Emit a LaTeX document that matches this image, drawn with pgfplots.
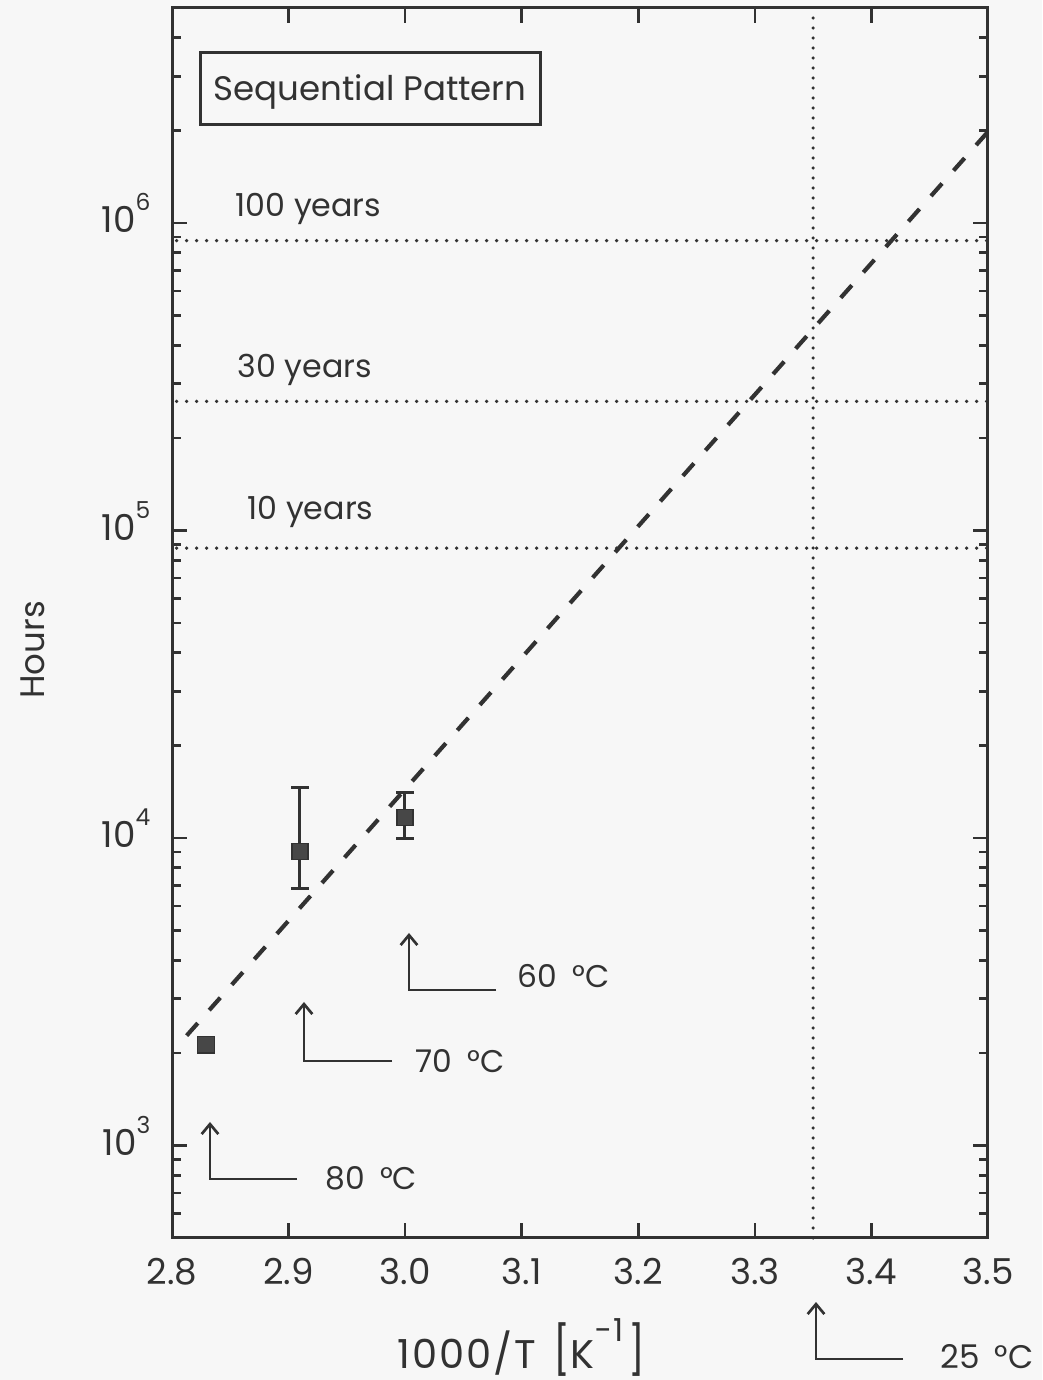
\documentclass[border=0pt]{standalone}
\usepackage{pgfplots}
\pgfplotsset{compat=1.18}
\usepackage{fontspec}
\setmainfont{Poppins}
\usetikzlibrary{arrows.meta}
\definecolor{ink}{RGB}{50,50,50}
\definecolor{bg}{RGB}{247,247,247}
\newcommand{\Q}[2]{({(#1-172)*0.3pt},{(1238-#2)*0.3pt})}
\newcommand{\sx}[1]{10\raisebox{6.6pt}{\fontsize{7}{7}\selectfont #1}}
\newcommand{\lab}{\fontsize{9.5}{11}\selectfont}
\newcommand{\tl}{\fontsize{9.4}{11}\selectfont}
\newcommand{\dg}{\hspace{4.5pt}°C}
\begin{document}
\begin{tikzpicture}[font=\fontsize{10.7}{12}\selectfont, color=ink]
\path[use as bounding box, fill=bg] (-51.6pt,-42.6pt) rectangle (261pt,371.4pt);
\begin{axis}[
  at={(0,0)}, anchor=south west, scale only axis,
  width=244.8pt, height=369pt,
  xmin=2.8, xmax=3.5, ymode=log, ymin=500, ymax=5e6,
  xtick={2.8,2.9,3.0,3.1,3.2,3.3,3.4,3.5},
  xticklabels={2.8,2.9,3.0,3.1,3.2,3.3,3.4,3.5},
  ytick={1e3,1e4,1e5,1e6},
  yticklabels={\sx{3},\sx{4},\sx{5},\sx{6}},
  minor ytick={600,700,800,900,2000,3000,4000,5000,6000,7000,8000,9000,
    2e4,3e4,4e4,5e4,6e4,7e4,8e4,9e4,2e5,3e5,4e5,5e5,6e5,7e5,8e5,9e5,2e6,3e6,4e6},
  xtick pos=both, ytick pos=both,
  tick align=inside, major tick length=4.5pt, minor tick length=2.6pt,
  axis line style={line width=0.9pt, ink},
  every tick/.style={line width=0.8pt, ink},
  xticklabel style={anchor=base, inner sep=0pt, yshift=-14.1pt},
  yticklabel style={anchor=base east, inner sep=0pt, xshift=-6.3pt, yshift=-3pt},
  /pgf/number format/assume math mode=true,
  clip=false,
]
% reference lines
\addplot[ink, line width=1.1pt, line cap=round, dash pattern=on 0pt off 3pt] coordinates {(2.804,876000)(3.5,876000)};
\addplot[ink, line width=1.1pt, line cap=round, dash pattern=on 0pt off 3pt] coordinates {(2.804,262800)(3.5,262800)};
\addplot[ink, line width=1.1pt, line cap=round, dash pattern=on 0pt off 3pt] coordinates {(2.804,87600)(3.5,87600)};
\addplot[ink, line width=1.1pt, line cap=round, dash pattern=on 0pt off 3pt] coordinates {(3.35,500)(3.35,5e6)};
% fit line
\addplot[ink, line width=1.25pt, dash pattern=on 5pt off 5.2pt] coordinates {(2.8126,2276)(3.5,1.98e6)};
% data
\addplot[only marks, mark=square*, mark size=2.5pt, ink, mark options={fill=ink!90}] coordinates {(2.8292,2128)};
\addplot[only marks, mark=square*, mark size=2.4pt, ink, mark options={fill=ink!90},
  error bars/.cd, y dir=both, y explicit,
  error bar style={line width=0.9pt, ink},
  error mark options={rotate=90, mark size=2.6pt, line width=0.9pt, ink}]
  table[x=x, y=y, y error plus=ep, y error minus=em] {
x y ep em
2.9098 9027 5543 2161
2.9998 11675 2400 1695
};
\end{axis}
% title box
\draw[line width=0.9pt] \Q{200}{52.5} rectangle \Q{540.5}{124.5};
\node[anchor=base west, inner sep=0pt, font=\fontsize{10.2}{12}\selectfont] at \Q{213}{101} {Sequential Pattern};
% line labels
\node[anchor=base west, inner sep=0pt, font=\lab] at \Q{235}{217} {100 years};
\node[anchor=base west, inner sep=0pt, font=\lab] at \Q{237}{378} {30 years};
\node[anchor=base west, inner sep=0pt, font=\lab] at \Q{247}{520} {10 years};
% temperature arrows
\draw[line width=0.8pt, -{Straight Barb[length=3pt,width=5pt]}] \Q{297}{1179} -- \Q{210}{1179} -- \Q{210}{1122};
\node[anchor=base west, inner sep=0pt, font=\tl] at \Q{325}{1190} {80\dg};
\draw[line width=0.8pt, -{Straight Barb[length=3pt,width=5pt]}] \Q{392}{1061} -- \Q{304}{1061} -- \Q{304}{1002};
\node[anchor=base west, inner sep=0pt, font=\tl] at \Q{415}{1073} {70\dg};
\draw[line width=0.8pt, -{Straight Barb[length=3pt,width=5pt]}] \Q{496}{990} -- \Q{409}{990} -- \Q{409}{933};
\node[anchor=base west, inner sep=0pt, font=\tl] at \Q{517}{988} {60\dg};
\draw[line width=0.8pt, -{Straight Barb[length=3pt,width=5pt]}] \Q{903}{1359} -- \Q{816}{1359} -- \Q{816}{1302};
\node[anchor=base west, inner sep=0pt, font=\fontsize{9.8}{12}\selectfont] at \Q{940}{1368} {25\dg};
% axis labels
\node[rotate=90, anchor=base, inner sep=0pt, font=\fontsize{10.2}{12}\selectfont] at \Q{45}{650} {Hours};
\node[anchor=base west, inner sep=0pt, font=\fontsize{12}{14}\selectfont\addfontfeature{LetterSpace=5}] at \Q{397}{1368} {1000/T\hspace{5pt}\raisebox{0.3pt}{\scalebox{1}[1.2]{[}}K\raisebox{8pt}{\fontsize{9.5}{9.5}\selectfont −1}\hspace{1.5pt}\raisebox{0.3pt}{\scalebox{1}[1.2]{]}}};
\end{tikzpicture}
\end{document}
